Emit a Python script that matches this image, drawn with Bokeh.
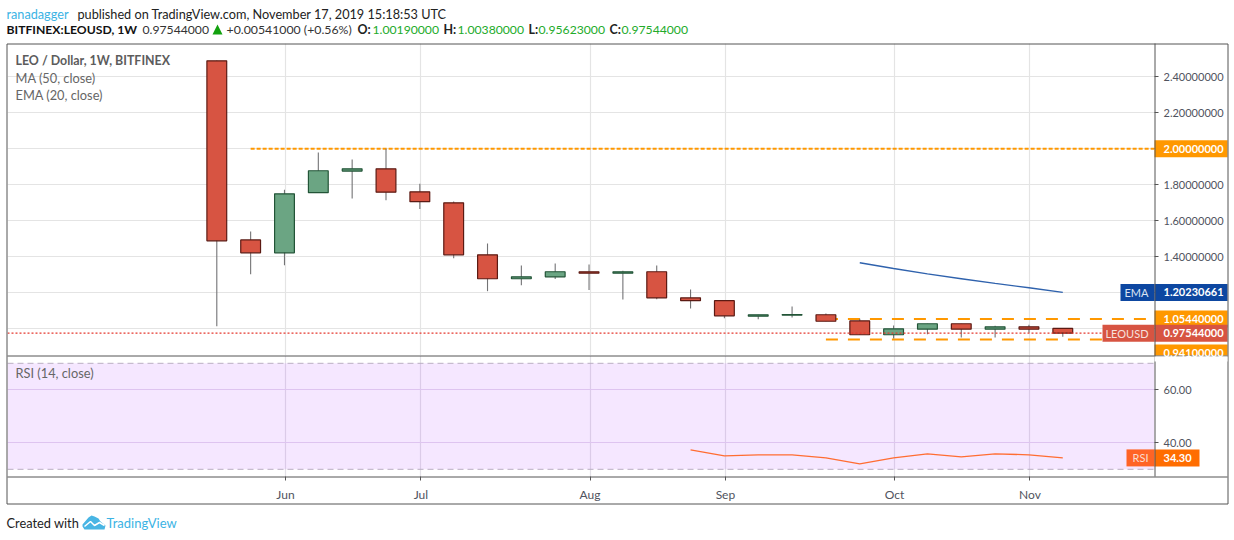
from bokeh.plotting import figure
from bokeh.layouts import column
from bokeh.models import (Range1d, FixedTicker, Grid, Label, BoxAnnotation, Span, PrintfTickFormatter)
from bokeh.embed import file_html
from bokeh.resources import INLINE

# ---- data -----------------------------------------------------------
opens  = [2.489,1.494,1.422,1.756,1.876,1.889,1.761,1.700,1.411,1.278,1.289,1.317,1.309,1.317,1.172,1.156,1.070,1.076,1.078,1.044,0.967,0.998,1.028,0.998,1.011,1.0019]
closes = [1.489,1.422,1.750,1.878,1.889,1.759,1.706,1.411,1.278,1.289,1.317,1.309,1.317,1.172,1.156,1.072,1.078,1.079,1.042,0.967,1.000,1.028,0.998,1.011,0.998,0.97544]
highs  = [2.490,1.540,1.772,1.979,1.941,2.000,1.806,1.707,1.474,1.352,1.363,1.357,1.322,1.352,1.218,1.156,1.078,1.124,1.085,1.056,1.018,1.028,1.028,1.017,1.022,1.0038]
lows   = [1.014,1.303,1.353,1.756,1.724,1.714,1.665,1.392,1.209,1.242,1.276,1.215,1.163,1.164,1.113,1.059,1.053,1.063,1.042,0.967,0.946,0.970,0.952,0.952,0.978,0.95623]
ema_idx = [19,20,21,22,23,24,25]
ema_val = [1.367,1.335,1.305,1.278,1.252,1.228,1.20230661]
rsi_idx = [14,15,16,17,18,19,20,21,22,23,24,25]
rsi_val = [37.36,35.09,35.47,35.47,34.34,32.08,34.34,35.85,34.72,35.85,35.47,34.30]
level_top = 2.0
level_hi = 1.0544
level_lo = 0.941
last_close = 0.97544
price_ticks = [2.4,2.2,2.0,1.8,1.6,1.4,1.2,1.0]
rsi_ticks = [60,40]
month_idx = [2,6,11,15,20,24]
month_names = ["Jun","Jul","Aug","Sep","Oct","Nov"]

# ---- layout constants -------------------------------------------------
FONT = "Lato"
W = 1230
FRAME_L, FRAME_R = 7, 1154
BOX_R = 1227
TOP, SPLIT, BOT, OUTER_B = 43, 355, 476, 503
TOTAL_H = 536
BORDER = "#555555"
TEXT = "#50535e"
GRID = "#e4e4e4"
GRID_OFF = 0.03
x_range = Range1d(-6.185, 27.71)
month_pos = [m + GRID_OFF for m in month_idx]
PX, Y2 = 180.0, 148.3      # pixels per price unit, page y of price 2.0
PR, Y60 = 2.65, 389.3      # pixels per RSI unit, page y of RSI 60

def price_y(v):
    return Y2 + (2 - v) * PX

def rsi_y(v):
    return Y60 + (60 - v) * PR

def style_axis(a, size="11px", standoff=5):
    a.major_label_text_font = FONT
    a.major_label_text_font_size = size
    a.major_label_text_color = TEXT
    a.major_tick_out, a.major_tick_in, a.minor_tick_out, a.minor_tick_in = 4, 0, 0, 0
    a.major_label_standoff = standoff
    a.major_tick_line_color = BORDER
    a.axis_line_color = None

# ---- main pane ---------------------------------------------------------
price_range = Range1d(2 - (SPLIT - Y2) / PX, 2 + (Y2 - TOP) / PX)
p = figure(width=W, height=SPLIT, x_range=x_range, y_range=price_range,
           output_backend="svg", toolbar_location=None, x_axis_location=None,
           y_axis_location="right", min_border_left=FRAME_L, min_border_right=W - FRAME_R,
           min_border_top=TOP, min_border_bottom=0, background_fill_color="white",
           outline_line_color=None)
p.grid.visible = False
p.add_layout(Grid(dimension=0, ticker=FixedTicker(ticks=month_pos), grid_line_color=GRID, grid_line_width=1.2))
p.add_layout(Grid(dimension=1, ticker=FixedTicker(ticks=price_ticks), grid_line_color=GRID, grid_line_width=1.2))
ax = p.yaxis[0]
ax.ticker = FixedTicker(ticks=price_ticks)
ax.formatter = PrintfTickFormatter(format="%.8f")
style_axis(ax)

OFF_R = 30
p.line([1, OFF_R], [level_top, level_top], line_color="#ff9800", line_width=2, line_dash="4 2")
p.line([18, OFF_R], [level_hi, level_hi], line_color="#ff9800", line_width=2, line_dash="12 10")
p.line([18, OFF_R], [level_lo, level_lo], line_color="#ff9800", line_width=2, line_dash="12 10")
p.add_layout(Span(location=last_close, dimension="width", line_color="#e5392f", line_width=1.3, line_dash="2 2", level="glyph"))

idx = list(range(len(closes)))
p.segment(idx, highs, idx, lows, line_color="#737375", line_width=1.1)
colors = ["#6ba583" if c >= o else "#d75442" for o, c in zip(opens, closes)]
borders = ["#225437" if c >= o else "#5b1a13" for o, c in zip(opens, closes)]
p.vbar(x=idx, top=[max(a, b) for a, b in zip(opens, closes)], bottom=[min(a, b) for a, b in zip(opens, closes)],
       width=0.585, fill_color=colors, line_color=borders, line_width=1.2)
p.line(ema_idx, ema_val, line_color="#2f62ad", line_width=1.3)

# ---- RSI pane ------------------------------------------------------------
rsi_range = Range1d(40 - (BOT - (Y60 + 20 * PR)) / PR, 60 + (Y60 - SPLIT) / PR)
q = figure(width=W, height=TOTAL_H - SPLIT, x_range=x_range, y_range=rsi_range,
           output_backend="svg", toolbar_location=None, y_axis_location="right",
           min_border_left=FRAME_L, min_border_right=W - FRAME_R, min_border_top=0,
           min_border_bottom=TOTAL_H - BOT, background_fill_color="white", outline_line_color=None)
q.grid.visible = False
q.add_layout(Grid(dimension=0, ticker=FixedTicker(ticks=month_pos), grid_line_color="#e2e0e6", grid_line_width=1.2))
q.add_layout(Grid(dimension=1, ticker=FixedTicker(ticks=rsi_ticks), grid_line_color="#e6d9ef", grid_line_width=1.2))
q.add_layout(BoxAnnotation(bottom=30, top=70, fill_color="#9915ff", fill_alpha=0.1, line_alpha=0, level="underlay"))
for lv in (70, 30):
    q.add_layout(Span(location=lv, dimension="width", line_color="#b9aec2", line_width=1, line_dash="6 4", level="glyph"))
q.line(rsi_idx, rsi_val, line_color="#ff6d32", line_width=1.3)

qy = q.yaxis[0]
qy.ticker = FixedTicker(ticks=rsi_ticks)
qy.formatter = PrintfTickFormatter(format="%.2f")
style_axis(qy)
qx = q.xaxis[0]
qx.ticker = FixedTicker(ticks=month_pos)
qx.major_label_overrides = {float(k): v for k, v in zip(month_pos, month_names)}
style_axis(qx, size="12px", standoff=6)

# ---- chrome: transparent page-sized sheet above the panes -------------------
c = figure(width=W, height=TOTAL_H, x_range=Range1d(0, W), y_range=Range1d(TOTAL_H, 0),
           output_backend="svg", toolbar_location=None, x_axis_location=None, y_axis_location=None,
           min_border_left=0, min_border_right=0, min_border_top=0, min_border_bottom=0,
           background_fill_alpha=0, border_fill_alpha=0, outline_line_color=None,
           styles={"position": "absolute", "left": "0px", "top": "0px"})
c.grid.visible = False

def lab(x, y, text, color=TEXT, size=12.5, bold=False, align="left"):
    c.add_layout(Label(x=x, y=y, text=text, text_font=FONT, text_font_size=f"{size}px",
                       text_color=color, text_font_style="bold" if bold else "normal",
                       text_align=align, text_baseline="middle", level="annotation"))

def box(l, r, t, b, color):
    c.quad(left=l, right=r, top=t, bottom=b, fill_color=color, line_alpha=0)

HALF = 8.5
TX = 1163
TAG = 11

# tags
for v, col in [(level_top, "#ff9800"), (level_hi, "#ff9800")]:
    box(FRAME_R, BOX_R, price_y(v) - HALF, price_y(v) + HALF, col)
    lab(TX, price_y(v), f"{v:.8f}", color="white", size=TAG, bold=True)
box(FRAME_R, BOX_R, 344, SPLIT, "#ff9800")
lab(TX, 352, f"{level_lo:.8f}", color="white", size=TAG, bold=True)
c.add_layout(BoxAnnotation(left=FRAME_R, right=BOX_R, top=SPLIT + 1, bottom=SPLIT + 6,
                           fill_color="white", fill_alpha=1, line_alpha=0, level="overlay"))
yc = price_y(last_close)
box(FRAME_R, BOX_R, yc - HALF, yc + HALF, "#d75442")
box(1102, FRAME_R, yc - HALF, yc + HALF, "#d75442")
lab(TX, yc, f"{last_close:.8f}", color="white", size=TAG, bold=True)
lab(1148, yc, "LEOUSD", color="#f6e0dd", size=TAG, align="right")
ye = price_y(ema_val[-1])
box(FRAME_R, BOX_R, ye - HALF, ye + HALF, "#0d47a1")
box(1120, FRAME_R, ye - HALF, ye + HALF, "#0d47a1")
lab(TX, ye, f"{ema_val[-1]:.8f}", color="white", size=TAG, bold=True)
lab(1148, ye, "EMA", color="#dbe4f2", size=TAG, align="right")
yr = rsi_y(rsi_val[-1])
box(FRAME_R, 1199, yr - HALF, yr + HALF, "#ff6d00")
box(1126, FRAME_R, yr - HALF, yr + HALF, "#ff6426")
lab(TX, yr, f"{rsi_val[-1]:.2f}", color="white", size=TAG, bold=True)
lab(1148, yr, "RSI", color="#fbdccf", size=TAG, align="right")

# border lines
c.multi_line(xs=[[FRAME_L - .5, BOX_R + .5, BOX_R + .5, FRAME_L - .5, FRAME_L - .5],
                 [FRAME_L, BOX_R], [FRAME_L, BOX_R], [FRAME_R + .5, FRAME_R + .5]],
             ys=[[TOP + .5, TOP + .5, OUTER_B + .5, OUTER_B + .5, TOP + .5],
                 [SPLIT + .5, SPLIT + .5], [BOT + .5, BOT + .5], [TOP, BOT]],
             line_color=BORDER, line_width=1)

# header
lab(6, 13, "ranadagger", color="#3bb3e4", size=12.7)
lab(77, 13, "published on TradingView.com, November 17, 2019 15:18:53 UTC", color="#222222", size=12.7)
lab(6, 29, "BITFINEX:LEOUSD, 1W", color="#111111", size=12.2, bold=True)
lab(142, 29, "0.97544000", color="#333333", size=12.2)
c.patch([212, 222, 217], [34, 34, 24], fill_color="#13a10e", line_alpha=0)
lab(226, 29, "+0.00541000 (+0.56%)", color="#333333", size=12.3)
for x, s in [(357, "O:"), (443, "H:"), (528, "L:"), (609, "C:")]:
    lab(x, 29, s, color="#222222", size=12.4, bold=True)
for x, s in [(372, "1.00190000"), (457, "1.00380000"), (538, "0.95623000"), (621, "0.97544000")]:
    lab(x, 29, s, color="#22ab2a", size=12.2)

# pane legends
lab(15, 60, "LEO / Dollar, 1W, BITFINEX", color="#5c5c5c", size=12.4, bold=True)
lab(15, 77, "MA (50, close)", color="#666666", size=12.8)
lab(15, 94, "EMA (20, close)", color="#666666", size=12.8)
lab(15, 372, "RSI (14, close)", color="#666666", size=12.8)

# footer
lab(6, 522, "Created with", color="#222222", size=12.8)
lab(106, 522, "TradingView", color="#3bb3e4", size=13)
c.patch([82, 88, 91, 94, 98, 100, 105, 104, 101, 84, 82],
        [524, 517, 515, 516, 518, 521, 525, 529, 529, 529, 526], fill_color="#48b5e4", line_alpha=0)
c.line([84, 90, 94, 99, 104], [526, 521, 525, 522, 525], line_color="white", line_width=1.5)

page = column(p, q, spacing=0)
open("out.html", "w").write(file_html((page, c), INLINE))
